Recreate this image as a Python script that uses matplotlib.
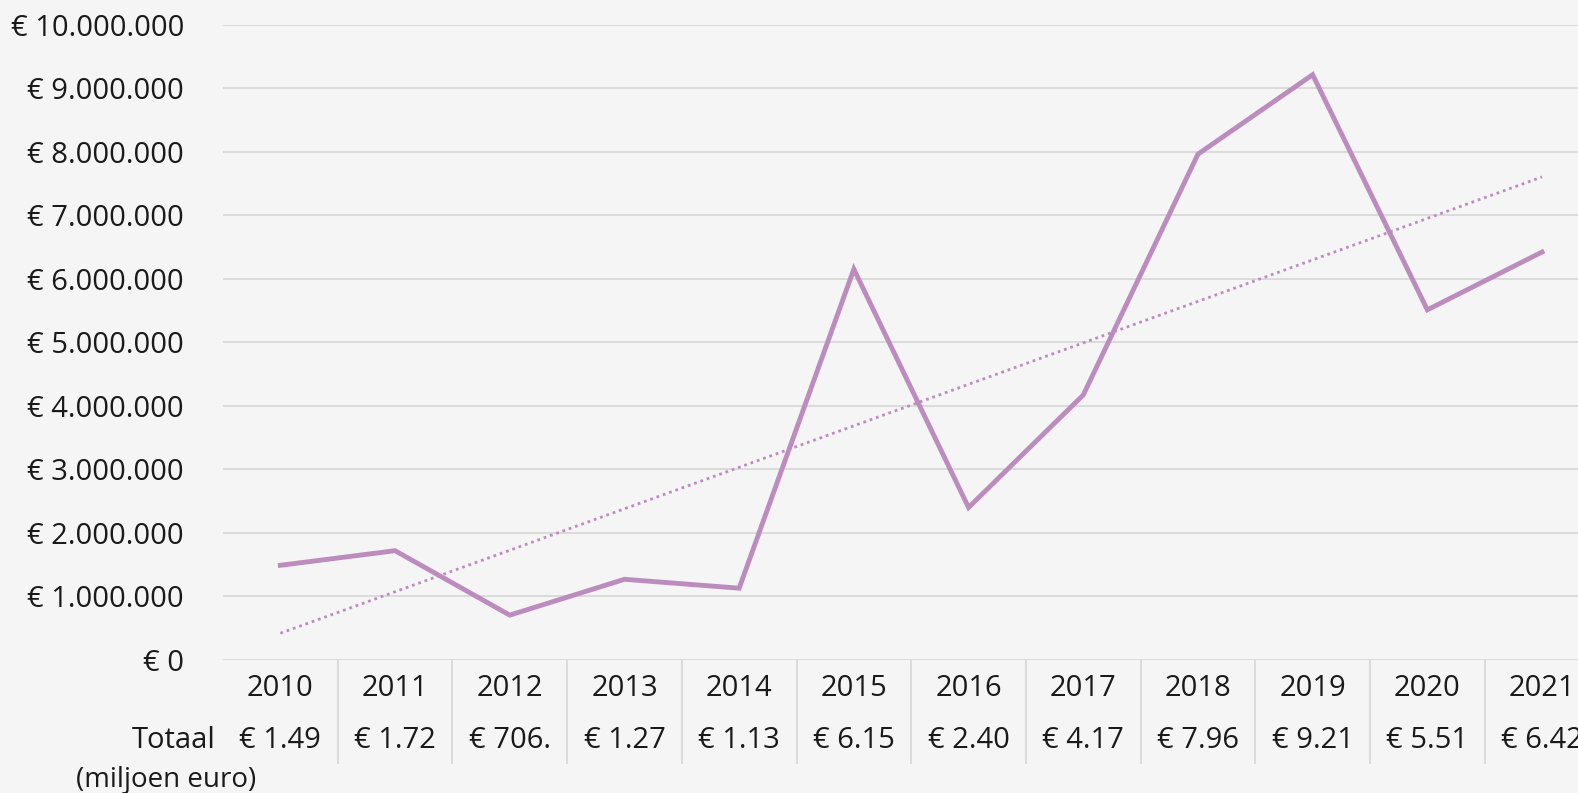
import numpy as np
import matplotlib
matplotlib.use('Agg')
import matplotlib.pyplot as plt
import matplotlib.transforms as mtransforms
from matplotlib.ticker import FuncFormatter

# DATA
years = ['2010', '2011', '2012', '2013', '2014', '2015', '2016', '2017', '2018', '2019', '2020', '2021']
totals = [1490000, 1720000, 706000, 1270000, 1130000, 6150000, 2400000, 4170000, 7960000, 9210000, 5510000, 6420000]
table_labels = ['€ 1.49', '€ 1.72', '€ 706.', '€ 1.27', '€ 1.13', '€ 6.15', '€ 2.40', '€ 4.17', '€ 7.96', '€ 9.21', '€ 5.51', '€ 6.42']
row_label = 'Totaal'
unit_label = '(miljoen euro)'

# STYLE
BG = '#f5f5f5'
LINE = '#bd8cbf'
GRID = '#d9d9d9'
TXT = '#1a1a1a'
FS = 21
plt.rcParams['font.family'] = ['Open Sans', 'DejaVu Sans']

W, H = 1578, 793
fig = plt.figure(figsize=(W / 100, H / 100), dpi=100, facecolor=BG)

# axes in pixel terms: left 223, bottom line at y=660, top at 24.5, 114.7 px per year
left, top, bottom, cell = 223, 24.5, 660, 114.7
ax = fig.add_axes([left / W, (H - bottom) / H, len(years) * cell / W, (bottom - top) / H])
ax.set_facecolor(BG)

x = np.arange(len(years))
ax.plot(x, totals, color=LINE, lw=3.5, solid_joinstyle='miter', zorder=3)

# linear trendline
k, b = np.polyfit(x, totals, 1)
ax.plot(x, k * x + b, color=LINE, lw=2.0, linestyle=(0, (1, 1.4)), zorder=2)

ax.set_xlim(-0.5, len(years) - 0.5)
ax.set_ylim(0, 10000000)
ax.set_yticks(np.arange(0, 10000001, 1000000))
ax.yaxis.set_major_formatter(FuncFormatter(lambda v, p: '€ ' + f'{v:,.0f}'.replace(',', '.')))
ax.tick_params(axis='y', length=0, pad=28, labelsize=FS, labelcolor=TXT)
ax.set_xticks([])
ax.grid(axis='y', color=GRID, lw=1.3)
ax.set_axisbelow(True)
for s in ax.spines.values():
    s.set_visible(False)

# data table below the axis
trans = mtransforms.blended_transform_factory(ax.transData, ax.transAxes)
axh = bottom - top
def yfrac(py):
    return -(py - bottom) / axh

for i, (yr, lab) in enumerate(zip(years, table_labels)):
    ax.text(i, yfrac(689), yr, transform=trans, ha='center', va='center', fontsize=FS, color=TXT)
    ax.text(i, yfrac(741), lab, transform=trans, ha='center', va='center', fontsize=FS, color=TXT)
for i in range(len(years) - 1):
    ax.plot([i + 0.5, i + 0.5], [0, yfrac(763)], transform=trans, color=GRID, lw=1.3, clip_on=False)

fig.text(216 / W, 1 - 741 / H, row_label, ha='right', va='center', fontsize=FS, color=TXT)
fig.text(76 / W, 1 - 780 / H, unit_label, ha='left', va='center', fontsize=FS - 1, color=TXT)

plt.savefig('out.png', dpi=100, facecolor=BG)
